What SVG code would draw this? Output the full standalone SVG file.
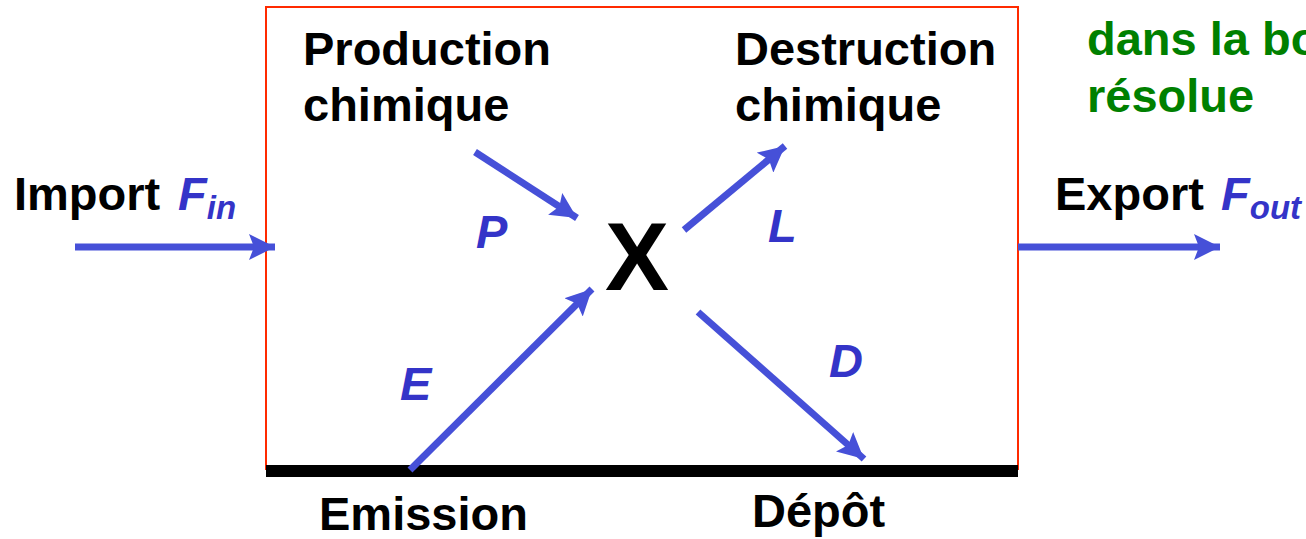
<svg xmlns="http://www.w3.org/2000/svg" width="1306" height="539" viewBox="0 0 1306 539">
  <style>
    text { font-family: "Liberation Sans", Arial, sans-serif; font-weight: bold; }
    .lbl { font-size: 47px; fill: #000; }
    .sym { font-size: 47px; fill: #3434C8; font-style: italic; }
    .sub { font-size: 33px; fill: #3434C8; font-style: italic; }
    .note { font-size: 47px; fill: #008000; }
    .flow { stroke: #4650D8; stroke-width: 7; fill: none; marker-end: url(#head); }
  </style>
  <defs>
    <marker id="head" markerUnits="userSpaceOnUse" viewBox="0 0 26 26" refX="26" refY="13" markerWidth="26" markerHeight="26" orient="auto">
      <path d="M0,0 L26,13 L0,26 L5,13 Z" fill="#4650D8"/>
    </marker>
  </defs>

  <!-- box boundary and ground -->
  <g id="box">
    <rect x="266" y="7" width="752" height="462" fill="none" stroke="#FF2A00" stroke-width="2"/>
    <rect x="266" y="465" width="752" height="12" fill="#000"/>
  </g>

  <!-- flows -->
  <g id="connectors">
    <line class="flow" x1="75" y1="247" x2="275" y2="247"/>
    <line class="flow" x1="1018" y1="247" x2="1220" y2="247"/>
    <line class="flow" x1="475" y1="152" x2="577" y2="218"/>
    <line class="flow" x1="684" y1="230" x2="785" y2="146"/>
    <line class="flow" x1="410" y1="470" x2="592" y2="289"/>
    <line class="flow" x1="698" y1="312" x2="864" y2="459"/>
  </g>

  <g id="species">
    <text x="605" y="290" style="font-size:96px;fill:#000">X</text>
  </g>

  <g id="production">
    <text class="lbl" x="303" y="65">Production</text>
    <text class="lbl" x="303" y="121">chimique</text>
    <text class="sym" x="476" y="248">P</text>
  </g>

  <g id="destruction">
    <text class="lbl" x="735" y="65">Destruction</text>
    <text class="lbl" x="735" y="121">chimique</text>
    <text class="sym" x="768" y="242">L</text>
  </g>

  <g id="import">
    <text class="lbl" x="14" y="210">Import</text>
    <text class="sym" x="178" y="210">F<tspan class="sub" dy="9">in</tspan></text>
  </g>

  <g id="export">
    <text class="lbl" x="1055" y="210">Export</text>
    <text class="sym" x="1221" y="210">F<tspan class="sub" dy="9">out</tspan></text>
  </g>

  <g id="emission">
    <text class="sym" x="400" y="400">E</text>
    <text class="lbl" x="319" y="530">Emission</text>
  </g>

  <g id="depot">
    <text class="sym" x="829" y="377">D</text>
    <text class="lbl" x="752" y="527">Dépôt</text>
  </g>

  <g id="note">
    <text class="note" x="1087" y="55">dans la bo</text>
    <text class="note" x="1087" y="112">résolue</text>
  </g>
</svg>
